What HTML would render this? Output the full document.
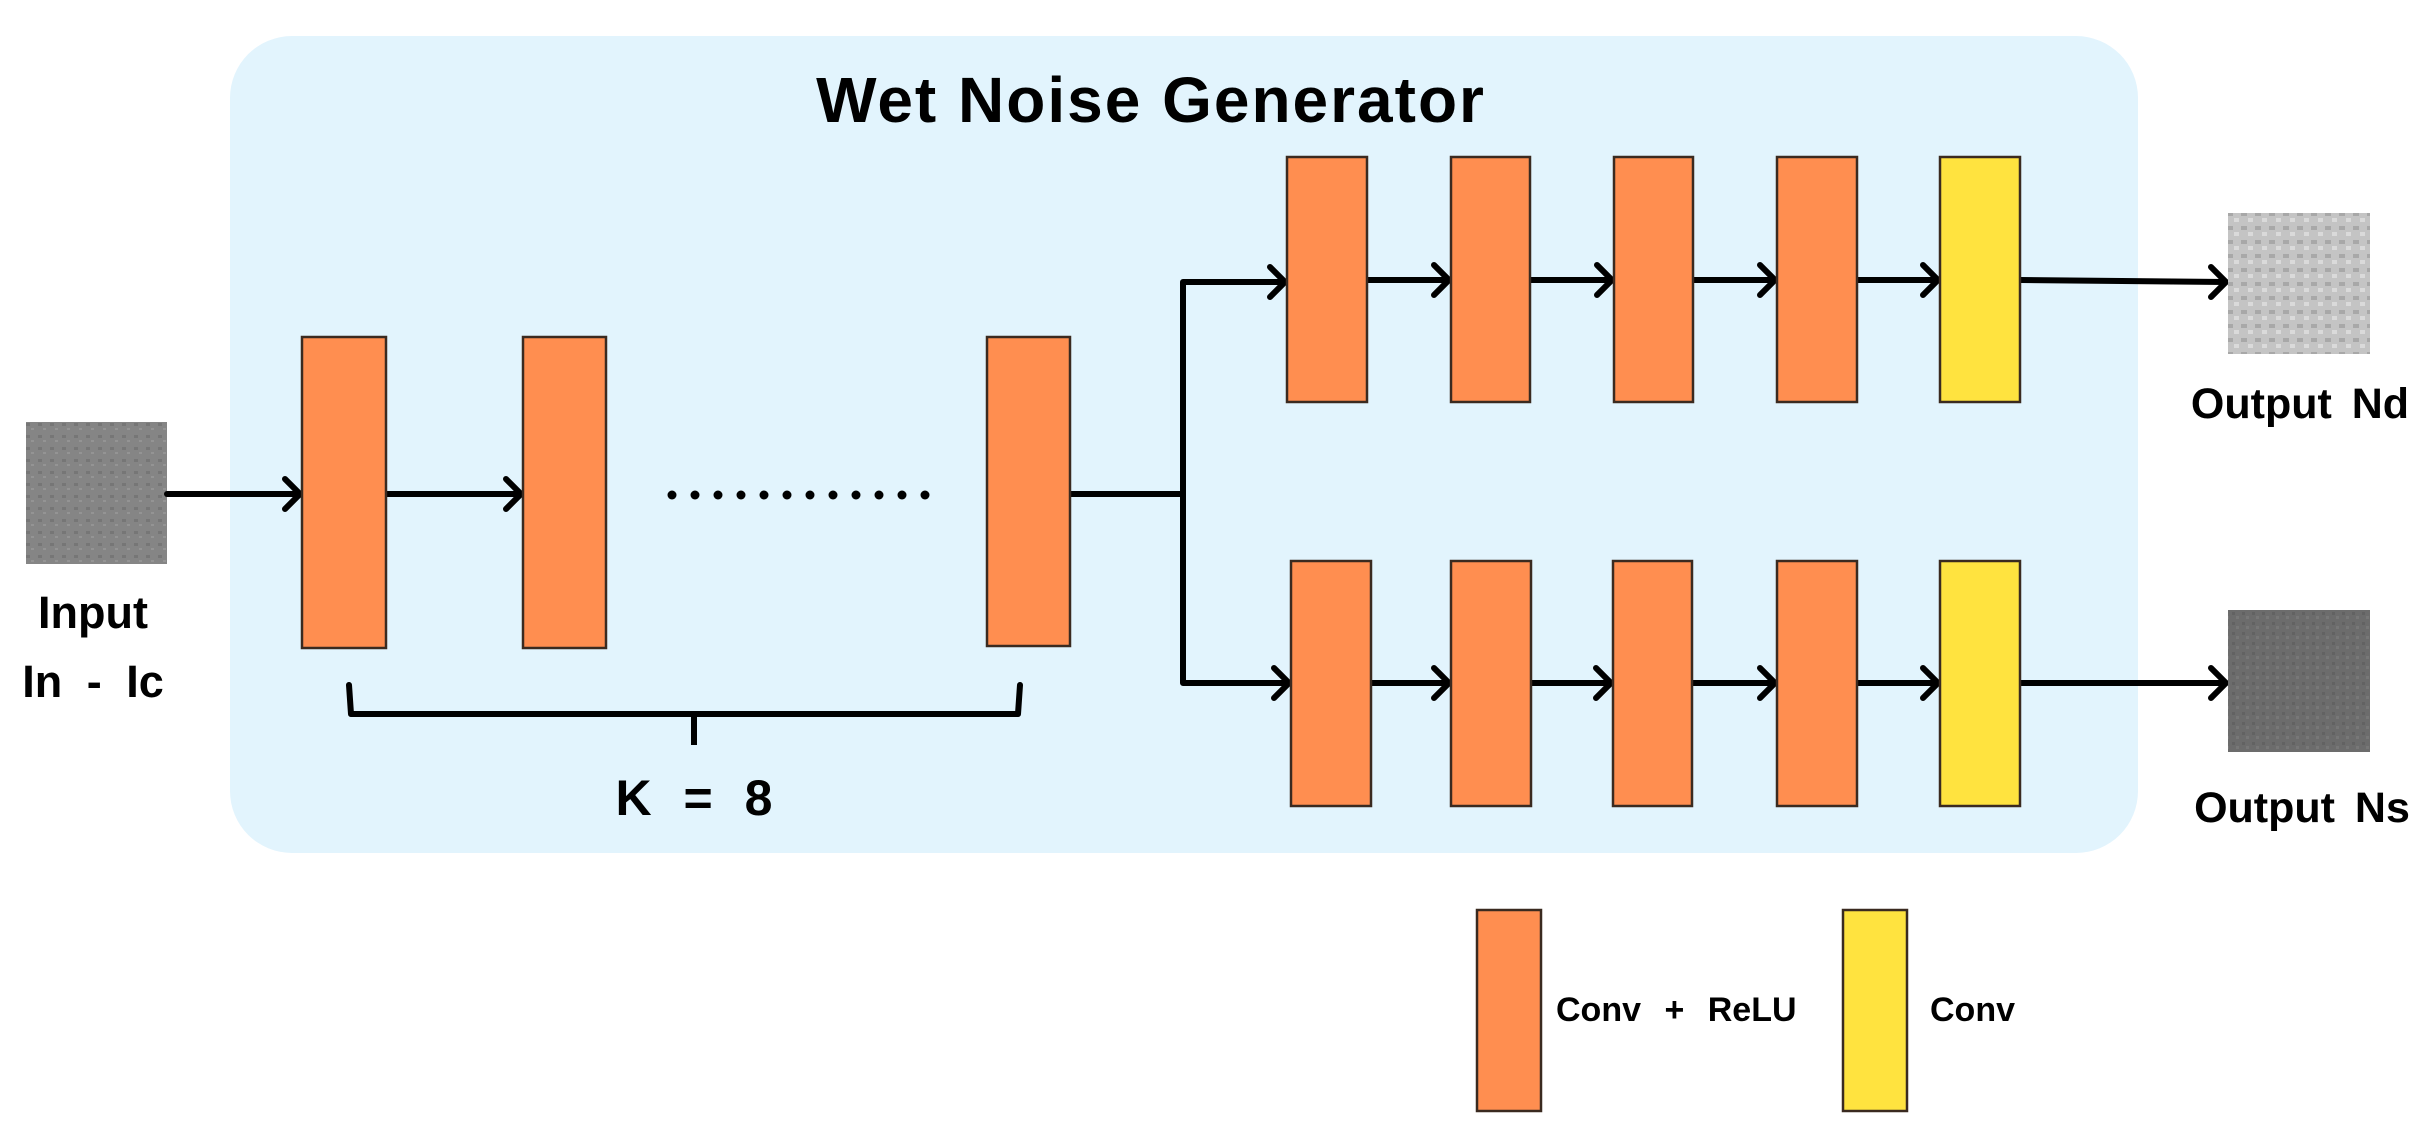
<!DOCTYPE html>
<html><head><meta charset="utf-8"><style>
html,body{margin:0;padding:0;background:#fff}
svg{display:block}
text{font-family:"Liberation Sans","NanumGothic",sans-serif;font-weight:bold;fill:#000}
</style></head><body>
<svg width="2433" height="1142" viewBox="0 0 2433 1142" xmlns="http://www.w3.org/2000/svg">
<defs>
<pattern id="n1" width="12" height="12" patternUnits="userSpaceOnUse">
<rect width="12" height="12" fill="#858585"/><rect x="2" y="3" width="4" height="3" fill="#767676"/><rect x="7" y="8" width="3" height="2" fill="#949494"/>
</pattern>
<pattern id="n2" width="14" height="14" patternUnits="userSpaceOnUse">
<rect width="14" height="14" fill="#c4c4c4"/><rect x="1" y="2" width="6" height="4" fill="#a8a8a8"/><rect x="8" y="8" width="5" height="4" fill="#dadada"/>
</pattern>
<pattern id="n3" width="10" height="10" patternUnits="userSpaceOnUse">
<rect width="10" height="10" fill="#6c6c6c"/><rect x="2" y="2" width="3" height="3" fill="#626262"/><rect x="6" y="6" width="3" height="3" fill="#777"/>
</pattern>
</defs>
<rect x="230" y="36" width="1908" height="817" rx="62" fill="#E2F4FD"/>
<text x="1151" y="122" font-size="64" text-anchor="middle" letter-spacing="2">Wet  Noise  Generator</text>

<rect x="26" y="422" width="141" height="142" fill="url(#n1)"/>
<text x="93" y="628" font-size="45" text-anchor="middle">Input</text>
<text x="93" y="697" font-size="45" text-anchor="middle" word-spacing="12">In - Ic</text>

<g stroke="#000" stroke-width="6" fill="none" stroke-linecap="round" stroke-linejoin="round">
<line x1="167" y1="494" x2="300" y2="494"/><polyline points="285,479 300,494 285,509"/>
<line x1="386" y1="494" x2="521" y2="494"/><polyline points="506,479 521,494 506,509"/>
<polyline points="1070,494 1183,494" stroke-linecap="butt"/>
<polyline points="1285,282 1183,282 1183,683 1289,683" stroke-linecap="butt"/>
<polyline points="1270,267 1285,282 1270,297"/>
<polyline points="1274,668 1289,683 1274,698"/>
<line x1="1367" y1="280" x2="1449" y2="280"/><polyline points="1434,265 1449,280 1434,295"/>
<line x1="1530" y1="280" x2="1612" y2="280"/><polyline points="1597,265 1612,280 1597,295"/>
<line x1="1693" y1="280" x2="1775" y2="280"/><polyline points="1760,265 1775,280 1760,295"/>
<line x1="1857" y1="280" x2="1938" y2="280"/><polyline points="1923,265 1938,280 1923,295"/>
<line x1="2020" y1="280" x2="2226" y2="282"/><polyline points="2211,267 2226,282 2211,297"/>
<line x1="1371" y1="683" x2="1449" y2="683"/><polyline points="1434,668 1449,683 1434,698"/>
<line x1="1531" y1="683" x2="1611" y2="683"/><polyline points="1596,668 1611,683 1596,698"/>
<line x1="1692" y1="683" x2="1775" y2="683"/><polyline points="1760,668 1775,683 1760,698"/>
<line x1="1857" y1="683" x2="1938" y2="683"/><polyline points="1923,668 1938,683 1923,698"/>
<line x1="2020" y1="683" x2="2226" y2="683"/><polyline points="2211,668 2226,683 2211,698"/>
<polyline points="349,685 351,714 1018,714 1020,685"/>
<line x1="694" y1="714" x2="694" y2="745" stroke-linecap="butt"/>
</g>
<g fill="#000">
<circle cx="672" cy="495" r="4.5"/><circle cx="695" cy="495" r="4.5"/><circle cx="718" cy="495" r="4.5"/><circle cx="741" cy="495" r="4.5"/><circle cx="764" cy="495" r="4.5"/><circle cx="787" cy="495" r="4.5"/><circle cx="810" cy="495" r="4.5"/><circle cx="833" cy="495" r="4.5"/><circle cx="856" cy="495" r="4.5"/><circle cx="879" cy="495" r="4.5"/><circle cx="902" cy="495" r="4.5"/><circle cx="925" cy="495" r="4.5"/>
</g>
<text x="694" y="815" font-size="50" text-anchor="middle" word-spacing="18">K = 8</text>

<g stroke="#3a2a20" stroke-width="2.5">
<rect x="302" y="337" width="84" height="311" fill="#FF8E50"/>
<rect x="523" y="337" width="83" height="311" fill="#FF8E50"/>
<rect x="987" y="337" width="83" height="309" fill="#FF8E50"/>
<rect x="1287" y="157" width="80" height="245" fill="#FF8E50"/>
<rect x="1451" y="157" width="79" height="245" fill="#FF8E50"/>
<rect x="1614" y="157" width="79" height="245" fill="#FF8E50"/>
<rect x="1777" y="157" width="80" height="245" fill="#FF8E50"/>
<rect x="1940" y="157" width="80" height="245" fill="#FFE33F"/>
<rect x="1291" y="561" width="80" height="245" fill="#FF8E50"/>
<rect x="1451" y="561" width="80" height="245" fill="#FF8E50"/>
<rect x="1613" y="561" width="79" height="245" fill="#FF8E50"/>
<rect x="1777" y="561" width="80" height="245" fill="#FF8E50"/>
<rect x="1940" y="561" width="80" height="245" fill="#FFE33F"/>
<rect x="1477" y="910" width="64" height="201" fill="#FF8E50"/>
<rect x="1843" y="910" width="64" height="201" fill="#FFE33F"/>
</g>

<rect x="2228" y="213" width="142" height="141" fill="url(#n2)"/>
<rect x="2228" y="610" width="142" height="142" fill="url(#n3)"/>
<text x="2300" y="418" font-size="43" text-anchor="middle" word-spacing="8">Output Nd</text>
<text x="2302" y="822" font-size="43" text-anchor="middle" word-spacing="8">Output Ns</text>
<text x="1556" y="1021" font-size="34" word-spacing="14">Conv + ReLU</text>
<text x="1930" y="1021" font-size="34">Conv</text>
</svg>
</body></html>
